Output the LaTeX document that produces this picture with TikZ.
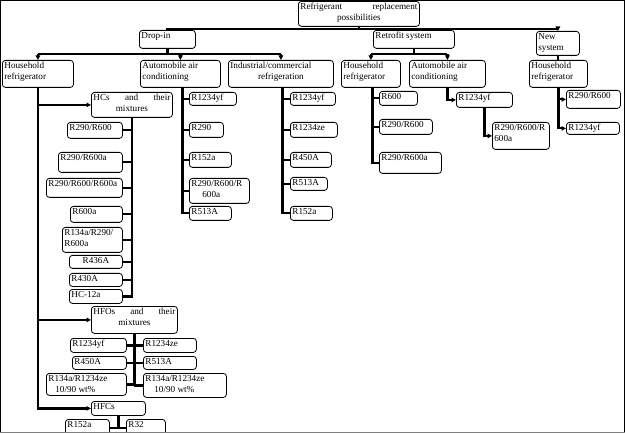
\documentclass[tikz,border=0pt]{standalone}
\usepackage{fontspec}
\setmainfont{Liberation Serif}
\usetikzlibrary{arrows.meta,calc}
\tikzset{
  bxs/.style={draw=black, line width=0.8bp, rounded corners=3bp, fill=white,
    inner xsep=2bp, inner ysep=1.5bp, text height=7bp,
    font=\fontsize{9.2}{10.5}\selectfont},
  trunk/.style={line width=2.2bp, draw=black},
  arr/.style={trunk, -{Triangle[length=4.5bp,width=4.5bp]}},
}
\newcommand\bx[7]{%
  \pgfmathsetmacro\bxw{#4-#2}\pgfmathsetmacro\bxh{#5-#3}%
  \pgfmathsetmacro\bxt{#4-#2-4}\pgfmathsetmacro\bxd{#5-#3-10}%
  \node[bxs,align=#6,anchor=north west,minimum width=\bxw bp,minimum height=\bxh bp,
    text width=\bxt bp,text depth=\bxd bp] (#1) at (#2,#3) {#7};}
\begin{document}
\begin{tikzpicture}[x=1bp,y=-1bp]
\useasboundingbox (0,0) rectangle (625,434);
\begin{scope}
\clip (0,0) rectangle (625,432.5);
% level 0/1
\bx{main}{298}{1}{419}{26}{center}{\hbox to\hsize{Refrigerant\hfill replacement}\\possibilities}
\bx{dropin}{139}{30}{195}{48}{flush left}{Drop-in}
\bx{retro}{373}{30}{454}{48}{flush left}{Retrofit system}
\bx{newsys}{536}{31}{579}{55}{flush left}{New\\system}
% level 2
\bx{hh1}{2}{60}{73}{87}{flush left}{Household\\refrigerator}
\bx{auto1}{140}{60}{220}{87}{flush left}{Automobile air\\conditioning}
\bx{ind1}{228}{60}{333}{87}{center}{\hbox to\hsize{Industrial/commercial\hfill}\\refrigeration}
\bx{hh2}{341}{60}{400}{87}{flush left}{Household\\refrigerator}
\bx{auto2}{409}{60}{485}{87}{flush left}{Automobile air\\conditioning}
\bx{hh3}{529}{60}{587}{87}{flush left}{Household\\refrigerator}
% HCs
\bx{hcs}{91}{92}{172}{117}{center}{\hbox to\hsize{HCs\hfill and\hfill their}\\mixtures}
\bx{hc1}{67}{122}{122}{138}{flush left}{R290/R600}
\bx{hc2}{58}{152}{122}{172}{flush left}{R290/R600a}
\bx{hc3}{46}{178}{122}{197}{flush left}{R290/R600/R600a}
\bx{hc4}{70}{206}{122}{222}{flush left}{R600a}
\bx{hc5}{62}{227}{122}{252}{flush left}{R134a/R290/\\R600a}
\bx{hc6}{69}{255}{122}{268}{center}{R436A}
\bx{hc7}{69}{273}{122}{286}{flush left}{R430A}
\bx{hc8}{69}{289}{122}{303}{flush left}{HC-12a}
% HFOs
\bx{hfos}{91}{306}{177}{333}{center}{\hbox to\hsize{HFOs\hfill and\hfill their}\\mixtures}
\bx{fo1}{70}{338}{126}{352}{flush left}{R1234yf}
\bx{fo2}{72}{356}{126}{369}{flush left}{R450A}
\bx{fo3}{46}{373}{126}{395}{flush left}{R134a/R1234ze\\\hspace*{7bp}10/90 wt\%}
\bx{fo4}{143}{338}{196}{352}{flush left}{R1234ze}
\bx{fo5}{143}{356}{196}{369}{flush left}{R513A}
\bx{fo6}{143}{373}{226}{397}{flush left}{R134a/R1234ze\\\hspace*{9bp}10/90 wt\%}
% HFCs
\bx{hfcs}{91}{401}{145}{415}{flush left}{HFCs}
\bx{fc1}{65}{419}{109}{436}{flush left}{R152a}
\bx{fc2}{126}{419}{165}{436}{flush left}{R32}
% automobile (drop-in)
\bx{a1c1}{189}{92}{236}{105}{flush left}{R1234yf}
\bx{a1c2}{189}{122}{223}{137}{flush left}{R290}
\bx{a1c3}{189}{152}{231}{167}{flush left}{R152a}
\bx{a1c4}{189}{178}{249}{203}{flush left}{R290/R600/R\\\hspace*{11bp}600a}
\bx{a1c5}{189}{206}{231}{220}{flush left}{R513A}
% industrial
\bx{i1}{290}{92}{335}{105}{flush left}{R1234yf}
\bx{i2}{290}{122}{337}{137}{flush left}{R1234ze}
\bx{i3}{290}{152}{331}{167}{flush left}{R450A}
\bx{i4}{290}{177}{327}{190}{flush left}{R513A}
\bx{i5}{290}{206}{332}{220}{flush left}{R152a}
% retrofit household
\bx{r1}{379}{91}{417}{105}{flush left}{R600}
\bx{r2}{379}{119}{432}{134}{flush left}{R290/R600}
\bx{r3}{379}{152}{441}{173}{flush left}{R290/R600a}
% retrofit automobile
\bx{ra1}{456}{92}{512}{107}{flush left}{R1234yf}
\bx{ra2}{492}{122}{549}{149}{flush left}{R290/R600/R\\600a}
% new household
\bx{n1}{566}{90}{620}{108}{flush left}{R290/R600}
\bx{n2}{566}{122}{619}{134}{flush left}{R1234yf}

% ---- connectors ----
\coordinate (mb) at ($(main.south)+(0,2)$);
\draw[trunk] (main.south) -- (mb);
\draw[trunk] (dropin.north) -- (dropin.north |- mb) -- (newsys.north |- mb);
\draw[arr] (newsys.north |- mb) -- (newsys.north);
\draw[trunk] (retro.north) -- (retro.north |- mb);
\draw[trunk] (newsys.south) -- (newsys.south |- hh3.north);

\coordinate (db) at ($(dropin.south)+(0,5)$);
\draw[trunk] (dropin.south) -- (db);
\draw[trunk] (hh1.north |- db) -- (ind1.north |- db);
\draw[arr] (hh1.north |- db) -- (hh1.north);
\draw[arr] (auto1.north |- db) -- (auto1.north);
\draw[arr] (ind1.north |- db) -- (ind1.north);

\coordinate (rb) at ($(retro.south)+(0,5)$);
\draw[trunk] (retro.south) -- (rb);
\draw[trunk] (hh2.north |- rb) -- (auto2.north |- rb);
\draw[arr] (hh2.north |- rb) -- (hh2.north);
\draw[arr] (auto2.north |- rb) -- (auto2.north);

\draw[arr] (hh1.south) |- (hcs.west);
\draw[arr] (hh1.south) |- (hfos.west);
\draw[arr] (hh1.south) |- (hfcs.west);

\draw[trunk] (hcs.south) |- (hc8.east);
\foreach \c in {hc1,hc2,hc3,hc4,hc5,hc6,hc7}
  \draw[trunk] (\c.east) -- (\c.east -| hcs.south);

\draw[trunk] (hfos.south) -- (hfos.south |- fo3.east);
\foreach \c in {fo1,fo2,fo3}
  \draw[trunk] (\c.east) -- (\c.east -| hfos.south);
\foreach \c in {fo4,fo5,fo6}
  \draw[trunk] (\c.west) -- (\c.west -| hfos.south);

\draw[trunk] (hfcs.south) -- (hfcs.south |- fc1.east);
\draw[trunk] (fc1.east) -- (fc2.west);

\coordinate (a1t) at ($(auto1.south)+(2,0)$);
\draw[trunk] (a1t) |- (a1c5.west);
\foreach \c in {a1c1,a1c2,a1c3,a1c4}
  \draw[trunk] (\c.west) -- (\c.west -| a1t);

\coordinate (it) at ($(ind1.south)+(1.5,0)$);
\draw[trunk] (it) |- (i5.west);
\foreach \c in {i1,i2,i3,i4}
  \draw[trunk] (\c.west) -- (\c.west -| it);

\coordinate (h2t) at ($(hh2.south)+(1.5,0)$);
\draw[trunk] (h2t) |- (r3.west);
\foreach \c in {r1,r2}
  \draw[trunk] (\c.west) -- (\c.west -| h2t);

\draw[arr] (auto2.south) |- (ra1.west);
\draw[arr] (ra1.south) |- (ra2.west);
\draw[arr] (hh3.south) |- (n1.west);
\draw[arr] (hh3.south) |- (n2.west);
\end{scope}
% frame
\draw[line width=0.8bp] (0.4,432.2) -- (0.4,0.4) -- (624,0.4) -- (624,432.2);
\draw[line width=1bp, draw=gray] (0,432.5) -- (625,432.5);
\end{tikzpicture}
\end{document}
